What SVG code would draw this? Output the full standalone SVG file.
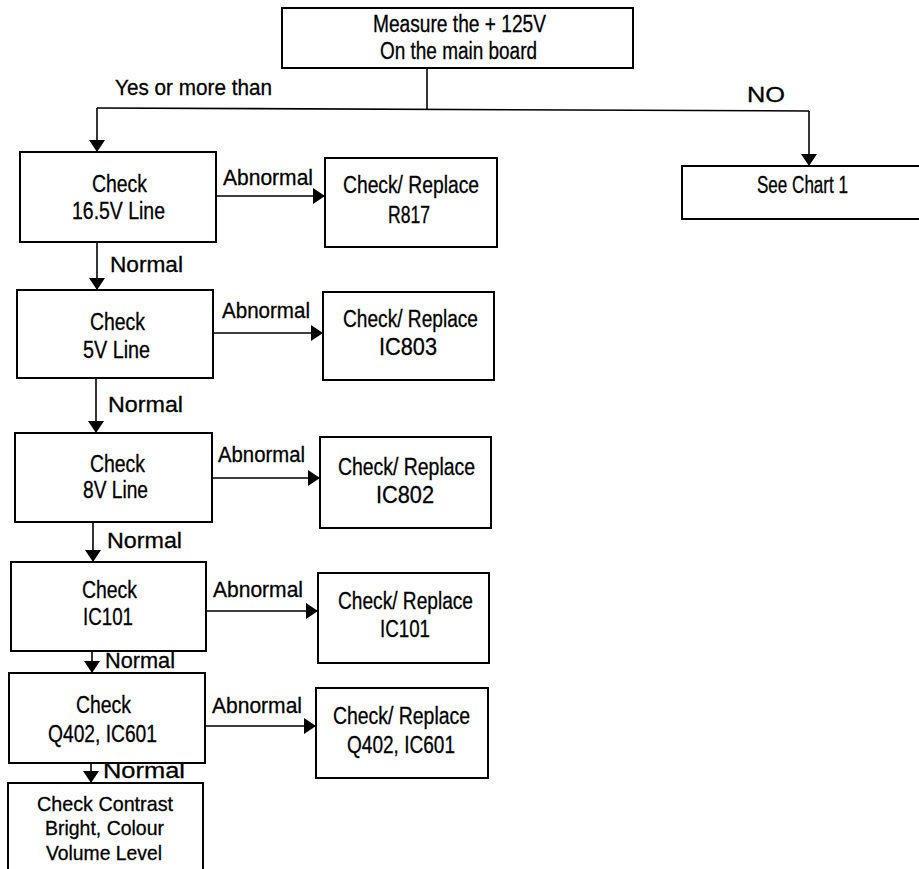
<svg xmlns="http://www.w3.org/2000/svg" width="919" height="869" viewBox="0 0 919 869">
<defs>
<marker id="ah" markerUnits="userSpaceOnUse" markerWidth="12" markerHeight="16" refX="12" refY="8" orient="auto">
<path d="M0,0 L12,8 L0,16 z" fill="#000"/>
</marker>
<style>
.box{fill:#fff;stroke:#000;stroke-width:2}
.ln{fill:none;stroke:#000;stroke-width:1.6}
.ar{fill:none;stroke:#000;stroke-width:1.6;marker-end:url(#ah)}
text{font-family:"Liberation Sans",Arial,sans-serif;font-size:23px;fill:#000;stroke:#000;stroke-width:0.3}
.lb{font-size:22px}
.sm{font-size:21px}
</style>
</defs>
<rect width="919" height="869" fill="#fff"/>
<g id="connectors">
<line class="ln" x1="427" y1="68" x2="427" y2="109"/>
<line class="ln" x1="97" y1="108" x2="809" y2="111"/>
<line class="ar" x1="97" y1="108" x2="97" y2="152"/>
<line class="ar" x1="809" y1="111" x2="809" y2="166"/>
<line class="ar" x1="216" y1="196" x2="325" y2="196"/>
<line class="ar" x1="97" y1="242" x2="97" y2="290"/>
<line class="ar" x1="213" y1="333" x2="323" y2="333"/>
<line class="ar" x1="96" y1="378" x2="96" y2="433"/>
<line class="ar" x1="212" y1="478" x2="320" y2="478"/>
<line class="ar" x1="93" y1="522" x2="93" y2="562"/>
<line class="ar" x1="206" y1="611" x2="318" y2="611"/>
<line class="ar" x1="92" y1="651" x2="92" y2="673"/>
<line class="ar" x1="205" y1="726" x2="316" y2="726"/>
<line class="ar" x1="91" y1="763" x2="91" y2="783"/>
<text class="lb" x="115" y="95" textLength="157" lengthAdjust="spacingAndGlyphs">Yes or more than</text>
<text class="lb" x="747" y="102" textLength="38" lengthAdjust="spacingAndGlyphs">NO</text>
<text class="lb" x="223" y="185" textLength="90" lengthAdjust="spacingAndGlyphs">Abnormal</text>
<text class="lb" x="110" y="272" textLength="73" lengthAdjust="spacingAndGlyphs">Normal</text>
<text class="lb" x="222" y="318" textLength="88" lengthAdjust="spacingAndGlyphs">Abnormal</text>
<text class="lb" x="108" y="412" textLength="75" lengthAdjust="spacingAndGlyphs">Normal</text>
<text class="lb" x="218" y="462" textLength="87" lengthAdjust="spacingAndGlyphs">Abnormal</text>
<text class="lb" x="107" y="548" textLength="75" lengthAdjust="spacingAndGlyphs">Normal</text>
<text class="lb" x="213" y="597" textLength="90" lengthAdjust="spacingAndGlyphs">Abnormal</text>
<text class="lb" x="105" y="668" textLength="70" lengthAdjust="spacingAndGlyphs">Normal</text>
<text class="lb" x="212" y="713" textLength="90" lengthAdjust="spacingAndGlyphs">Abnormal</text>
<text class="lb" x="103" y="778" textLength="82" lengthAdjust="spacingAndGlyphs">Normal</text>
</g>
<g id="measure">
<rect class="box" x="282" y="8" width="351" height="60"/>
<text x="373" y="32" textLength="173" lengthAdjust="spacingAndGlyphs">Measure the + 125V</text>
<text x="380" y="59" textLength="157" lengthAdjust="spacingAndGlyphs">On the main board</text>
</g>
<g id="chart1">
<rect class="box" x="682" y="166" width="245" height="53"/>
<text x="757" y="193" textLength="91" lengthAdjust="spacingAndGlyphs">See Chart 1</text>
</g>
<g id="check165">
<rect class="box" x="20" y="152" width="196" height="90"/>
<text x="92" y="192" textLength="55" lengthAdjust="spacingAndGlyphs">Check</text>
<text x="72" y="219" textLength="93" lengthAdjust="spacingAndGlyphs">16.5V Line</text>
</g>
<g id="r817">
<rect class="box" x="325" y="158" width="172" height="89"/>
<text x="343" y="193" textLength="136" lengthAdjust="spacingAndGlyphs">Check/ Replace</text>
<text x="388" y="223" textLength="42" lengthAdjust="spacingAndGlyphs">R817</text>
</g>
<g id="check5">
<rect class="box" x="17" y="290" width="196" height="88"/>
<text x="90" y="330" textLength="55" lengthAdjust="spacingAndGlyphs">Check</text>
<text x="83" y="358" textLength="67" lengthAdjust="spacingAndGlyphs">5V Line</text>
</g>
<g id="ic803">
<rect class="box" x="323" y="292" width="171" height="88"/>
<text x="343" y="327" textLength="135" lengthAdjust="spacingAndGlyphs">Check/ Replace</text>
<text x="379" y="355" textLength="58" lengthAdjust="spacingAndGlyphs">IC803</text>
</g>
<g id="check8">
<rect class="box" x="15" y="433" width="197" height="89"/>
<text x="90" y="472" textLength="55" lengthAdjust="spacingAndGlyphs">Check</text>
<text x="83" y="498" textLength="65" lengthAdjust="spacingAndGlyphs">8V Line</text>
</g>
<g id="ic802">
<rect class="box" x="320" y="437" width="171" height="91"/>
<text x="338" y="475" textLength="137" lengthAdjust="spacingAndGlyphs">Check/ Replace</text>
<text x="376" y="503" textLength="58" lengthAdjust="spacingAndGlyphs">IC802</text>
</g>
<g id="checkic101">
<rect class="box" x="11" y="562" width="195" height="89"/>
<text x="82" y="598" textLength="55" lengthAdjust="spacingAndGlyphs">Check</text>
<text x="83" y="625" textLength="50" lengthAdjust="spacingAndGlyphs">IC101</text>
</g>
<g id="ic101">
<rect class="box" x="318" y="573" width="171" height="90"/>
<text x="338" y="609" textLength="135" lengthAdjust="spacingAndGlyphs">Check/ Replace</text>
<text x="380" y="637" textLength="50" lengthAdjust="spacingAndGlyphs">IC101</text>
</g>
<g id="checkq402">
<rect class="box" x="9" y="673" width="196" height="90"/>
<text x="76" y="713" textLength="55" lengthAdjust="spacingAndGlyphs">Check</text>
<text x="48" y="742" textLength="109" lengthAdjust="spacingAndGlyphs">Q402, IC601</text>
</g>
<g id="q402">
<rect class="box" x="316" y="688" width="172" height="90"/>
<text x="333" y="724" textLength="137" lengthAdjust="spacingAndGlyphs">Check/ Replace</text>
<text x="347" y="753" textLength="108" lengthAdjust="spacingAndGlyphs">Q402, IC601</text>
</g>
<g id="contrast">
<rect class="box" x="8" y="783" width="195" height="100"/>
<text class="sm" x="37" y="811" textLength="136" lengthAdjust="spacingAndGlyphs">Check Contrast</text>
<text class="sm" x="45" y="835" textLength="119" lengthAdjust="spacingAndGlyphs">Bright, Colour</text>
<text class="sm" x="46" y="860" textLength="116" lengthAdjust="spacingAndGlyphs">Volume Level</text>
</g>
</svg>
